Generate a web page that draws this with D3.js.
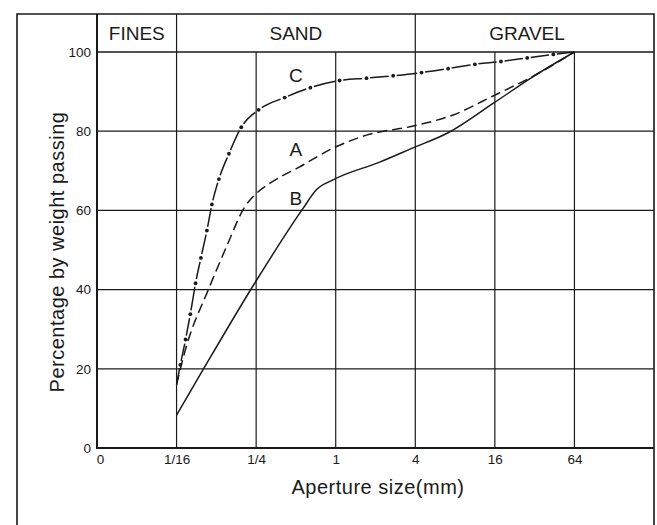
<!DOCTYPE html>
<html>
<head>
<meta charset="utf-8">
<script src="https://cdn.jsdelivr.net/npm/d3@7"></script>
<style>
	body { margin: 0; background: #fff; }
	svg { display: block; font-family: "Liberation Sans", Arial, sans-serif; }
</style>
</head>
<body>
<div id="chart"></div>
<script>
// ---------- DATA ----------
const xTicks = [1 / 64, 1 / 16, 1 / 4, 1, 4, 16, 64];
const xTickLabels = ["0", "1/16", "1/4", "1", "4", "16", "64"];
const yTicks = [0, 20, 40, 60, 80, 100];

const zones = ["FINES", "SAND", "GRAVEL"];
const zoneEdges = [1 / 16, 4]; // dividers in the header row
const zoneLabelAt = [1 / 32, 0.5, 28];

// grading curves: aperture (mm) / percentage passing
const sizesA = [0.0625, 0.0716, 0.111, 0.149, 0.205, 0.251, 0.316, 0.534, 0.954, 1.71, 3.85, 7.73, 15.5, 31.2, 64];
const passA = [16, 23.9, 40.7, 50.8, 60.9, 64.3, 66.8, 71, 75.7, 79, 81.3, 84.1, 88.9, 93.9, 100];

const sizesB = [0.0625, 0.0989, 0.2436, 0.566, 0.714, 0.954, 2.15, 3.85, 7.09, 15.5, 31.2, 64];
const passB = [8.3, 19.7, 41.6, 60.5, 65.2, 67.7, 72.2, 75.8, 79.6, 87, 93.8, 100];

const sizesC = [0.0625, 0.0667, 0.0731, 0.0794, 0.087, 0.0955, 0.106, 0.1157, 0.1307, 0.1556, 0.193, 0.261, 0.411, 0.643, 1.07, 1.71, 2.72, 4.46, 7.09, 11.3, 17.8, 28.1, 44.3, 64];
const passC = [16, 21, 27.4, 33.8, 41.6, 48, 54.9, 61.5, 67.9, 74.3, 81, 85.4, 88.5, 91, 92.8, 93.4, 94, 94.8, 95.8, 96.9, 97.6, 98.5, 99.4, 100];

const curveNames = ["A", "B", "C"];
const labelSize = [0.5, 0.5, 0.5];
const labelPass = [75.3, 63.1, 94.2];

// ---------- CHART ----------
const width = 657;
const height = 525;
const frame = { left: 17, top: 14, right: 654 };
const plot = { left: 97, top: 52, right: 654, bottom: 448 };
const ink = "#1a1a1a";

const svg = d3
	.select("#chart")
	.append("svg")
	.attr("width", width)
	.attr("height", height);

const x = d3
	.scaleLog()
	.base(4)
	.domain([1 / 64, 256])
	.range([plot.left, plot.right]);

const y = d3.scaleLinear().domain([0, 100]).range([plot.bottom, plot.top]);

// outer frame (runs off the bottom of the page)
svg
	.append("path")
	.attr("d", `M${frame.left},${height + 10}V${frame.top}H${frame.right}V${height + 10}`)
	.attr("fill", "none")
	.attr("stroke", ink)
	.attr("stroke-width", 1.6);

const gridG = svg.append("g").attr("stroke", ink).attr("stroke-width", 1.2);

// vertical grid
gridG
	.selectAll(".vgrid")
	.data(xTicks.slice(1))
	.enter()
	.append("line")
	.attr("x1", (d) => x(d))
	.attr("x2", (d) => x(d))
	.attr("y1", (d) => (zoneEdges.includes(d) ? frame.top : plot.top))
	.attr("y2", plot.bottom);

// horizontal grid
gridG
	.selectAll(".hgrid")
	.data(yTicks.slice(1))
	.enter()
	.append("line")
	.attr("x1", plot.left)
	.attr("x2", plot.right)
	.attr("y1", (d) => y(d))
	.attr("y2", (d) => y(d))
	.attr("stroke-width", (d) => (d === 100 ? 1.6 : 1.2));

// axes lines
svg
	.append("path")
	.attr("d", `M${plot.left},${frame.top}V${plot.bottom}H${plot.right}`)
	.attr("fill", "none")
	.attr("stroke", ink)
	.attr("stroke-width", 2);

// header labels
svg
	.append("g")
	.selectAll("text")
	.data(zones)
	.enter()
	.append("text")
	.attr("x", (d, i) => x(zoneLabelAt[i]))
	.attr("y", 40)
	.attr("text-anchor", "middle")
	.attr("font-size", 19)
	.attr("fill", ink)
	.text((d) => d);

// tick labels
const xAxis = svg
	.append("g")
	.attr("transform", `translate(0, ${plot.bottom})`)
	.call(
		d3
			.axisBottom(x)
			.tickValues(xTicks)
			.tickFormat((d, i) => xTickLabels[i])
			.tickSize(0)
			.tickPadding(6)
	);
xAxis.select(".domain").remove();
xAxis.selectAll("text").filter((d, i) => i === 0).attr("dx", 3);

const yAxis = svg
	.append("g")
	.attr("transform", `translate(${plot.left}, 0)`)
	.call(d3.axisLeft(y).tickValues(yTicks).tickSize(0).tickPadding(6));
yAxis.select(".domain").remove();

[xAxis, yAxis].forEach((ax) => {
	ax.attr("font-size", 13.5).attr("font-family", null);
	ax.selectAll("text").attr("fill", ink);
});

// axis titles
svg
	.append("text")
	.attr("x", 378)
	.attr("y", 494)
	.attr("text-anchor", "middle")
	.attr("font-size", 20)
	.attr("letter-spacing", 0.5)
	.attr("fill", ink)
	.text("Aperture size(mm)");

svg
	.append("text")
	.attr("transform", "translate(64, 252) rotate(-90)")
	.attr("text-anchor", "middle")
	.attr("font-size", 20)
	.attr("letter-spacing", 0.5)
	.attr("fill", ink)
	.text("Percentage by weight passing");

// ---------- CURVES ----------
const line = d3
	.line()
	.x((d) => x(d[0]))
	.y((d) => y(d[1]))
	.curve(d3.curveMonotoneX);

const dataA = d3.zip(sizesA, passA);
const dataB = d3.zip(sizesB, passB);
const dataC = d3.zip(sizesC, passC);

const curvesG = svg
	.append("g")
	.attr("fill", "none")
	.attr("stroke", ink)
	.attr("stroke-width", 1.5);

curvesG.append("path").attr("d", line(dataA)).attr("stroke-dasharray", "10 5");
curvesG.append("path").attr("d", line(dataB));

// dash-dot for C: a dash between each pair of dots, gap around every dot
const gap = 4;
const ptsC = dataC.map((d) => [x(d[0]), y(d[1])]);
const segLen = d3.pairs(ptsC).map(([a, b]) => Math.hypot(b[0] - a[0], b[1] - a[1]));
const dashes = [];
segLen.forEach((L, i) => {
	const startCut = i === 0 ? 0 : gap;
	const endCut = i === segLen.length - 1 ? 0 : gap;
	if (i > 0) dashes.push(2 * gap);
	dashes.push(Math.max(L - startCut - endCut, 0.5));
});
dashes.push(2000);

curvesG
	.append("path")
	.attr("d", line(dataC))
	.attr("stroke-dasharray", dashes.join(" "));

svg
	.append("g")
	.attr("fill", ink)
	.selectAll("circle")
	.data(dataC.slice(1, -1))
	.enter()
	.append("circle")
	.attr("cx", (d) => x(d[0]))
	.attr("cy", (d) => y(d[1]))
	.attr("r", 1.9);

// curve labels
svg
	.append("g")
	.selectAll("text")
	.data(curveNames)
	.enter()
	.append("text")
	.attr("x", (d, i) => x(labelSize[i]))
	.attr("y", (d, i) => y(labelPass[i]))
	.attr("dy", "0.35em")
	.attr("text-anchor", "middle")
	.attr("font-size", 19)
	.attr("fill", ink)
	.text((d) => d);
</script>
</body>
</html>
